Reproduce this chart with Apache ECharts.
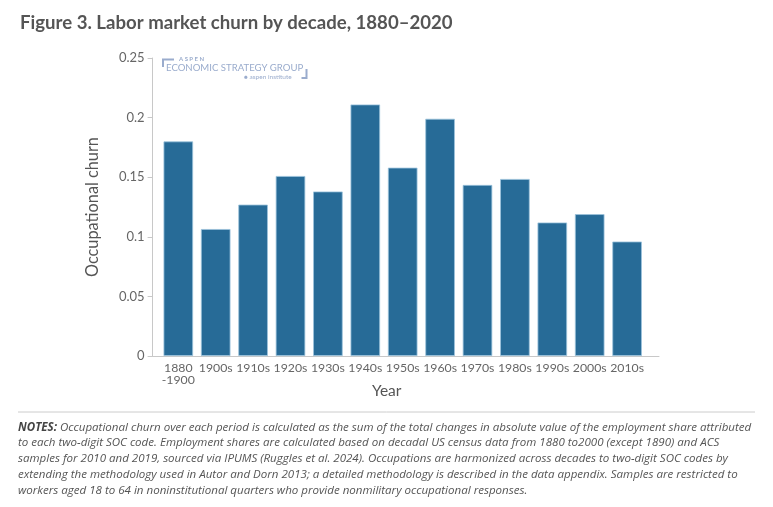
<!DOCTYPE html>
<html><head><meta charset="utf-8">
<script src="https://cdn.jsdelivr.net/npm/echarts@6/dist/echarts.min.js"></script>
<style>html,body{margin:0;padding:0;background:#fff}#c{width:773px;height:507px}</style>
</head><body><div id="c"></div>
<script>
var categories = ['1880\n-1900','1900s','1910s','1920s','1930s','1940s','1950s','1960s','1970s','1980s','1990s','2000s','2010s'];
var churn = [0.180,0.1065,0.127,0.151,0.138,0.211,0.158,0.199,0.1435,0.1485,0.112,0.119,0.096];
var yTicks = {min:0, max:0.25, interval:0.05};
var titleText = 'Figure 3. Labor market churn by decade, 1880–2020';
var notesLines = [
 '{b|NOTES:} Occupational churn over each period is calculated as the sum of the total changes in absolute value of the employment share attributed',
 'to each two-digit SOC code. Employment shares are calculated based on decadal US census data from 1880 to2000 (except 1890) and ACS',
 'samples for 2010 and 2019, sourced via IPUMS (Ruggles et al. 2024). Occupations are harmonized across decades to two-digit SOC codes by',
 'extending the methodology used in Autor and Dorn 2013; a detailed methodology is described in the data appendix. Samples are restricted to',
 'workers aged 18 to 64 in noninstitutional quarters who provide nonmilitary occupational responses.'
];
var FONT = 'Lato, "Open Sans", sans-serif';
var NFONT = '"Open Sans", Lato, sans-serif';
var logoColor = '#9aaccd';
var axisColor = '#c8c8c8';
var chart = echarts.init(document.getElementById('c'), null, {renderer:'canvas'});
chart.setOption({
  animation:false,
  backgroundColor:'#fff',
  grid:[
    {left:159.6, right:127.2, top:58, bottom:151, containLabel:false},
    {left:152.5, right:114, top:58, bottom:151, containLabel:false}
  ],
  xAxis:[{
    type:'category', data:categories, gridIndex:0,
    name:'Year', nameLocation:'middle', nameGap:27, nameMoveOverlap:false,
    nameTextStyle:{fontFamily:FONT, fontSize:15.5, color:'#555', verticalAlign:'top', padding:[0,32,0,0]},
    axisLine:{show:false},
    axisTick:{alignWithLabel:true, length:5, lineStyle:{color:axisColor}},
    axisLabel:{fontFamily:FONT, fontSize:12.3, color:'#666', margin:5.5, lineHeight:12.5, interval:0}
  },{
    type:'value', gridIndex:1, min:0, max:1,
    axisLine:{show:true, lineStyle:{color:axisColor}},
    axisTick:{show:false}, axisLabel:{show:false}, splitLine:{show:false}
  }],
  yAxis:[{
    type:'value', gridIndex:0, min:yTicks.min, max:yTicks.max, interval:yTicks.interval, offset:7,
    name:'Occupational churn', nameLocation:'middle', nameGap:52, nameRotate:90,
    nameTextStyle:{fontFamily:FONT, fontSize:16.3, color:'#555'},
    axisLine:{show:true, lineStyle:{color:axisColor}},
    axisTick:{show:true, length:5, lineStyle:{color:axisColor}},
    splitLine:{show:false},
    axisLabel:{fontFamily:FONT, fontSize:13, color:'#666', margin:8}
  },{
    type:'value', gridIndex:1, show:false
  }],
  series:[{
    type:'bar', data:churn, barCategoryGap:'21%', xAxisIndex:0, yAxisIndex:0,
    itemStyle:{color:'#276b97', borderColor:'#9cc3dc', borderWidth:0.8}
  }],
  graphic:[
    {type:'text', left:20, top:13, style:{text:titleText, font:'bold 18.6px '+FONT, fill:'#555'}},
    {type:'polyline', shape:{points:[[163,67],[163,59.5],[174,59.5]]}, style:{stroke:logoColor, lineWidth:2, fill:null}},
    {type:'text', left:179, top:56, style:{text:'A S P E N', font:'bold 6px '+FONT, fill:logoColor}},
    {type:'text', left:166, top:62.5, style:{text:'ECONOMIC STRATEGY GROUP', font:'9.6px '+FONT, fill:logoColor}},
    {type:'text', left:244, top:73, style:{text:'\u25CF aspen institute', font:'6.5px '+FONT, fill:logoColor}},
    {type:'polyline', shape:{points:[[301.5,78],[306.5,78],[306.5,69]]}, style:{stroke:logoColor, lineWidth:2, fill:null}},
    {type:'line', shape:{x1:18, y1:412, x2:755, y2:412}, style:{stroke:'#cccccc', lineWidth:1}},
    {type:'text', left:18, top:419.5, style:{
      text:notesLines.join('\n'), font:'italic 11.55px '+NFONT, fill:'#555', lineHeight:15.8,
      rich:{b:{font:'italic bold 11.55px '+NFONT, fill:'#444', lineHeight:15.8}}
    }}
  ]
});
</script></body></html>
